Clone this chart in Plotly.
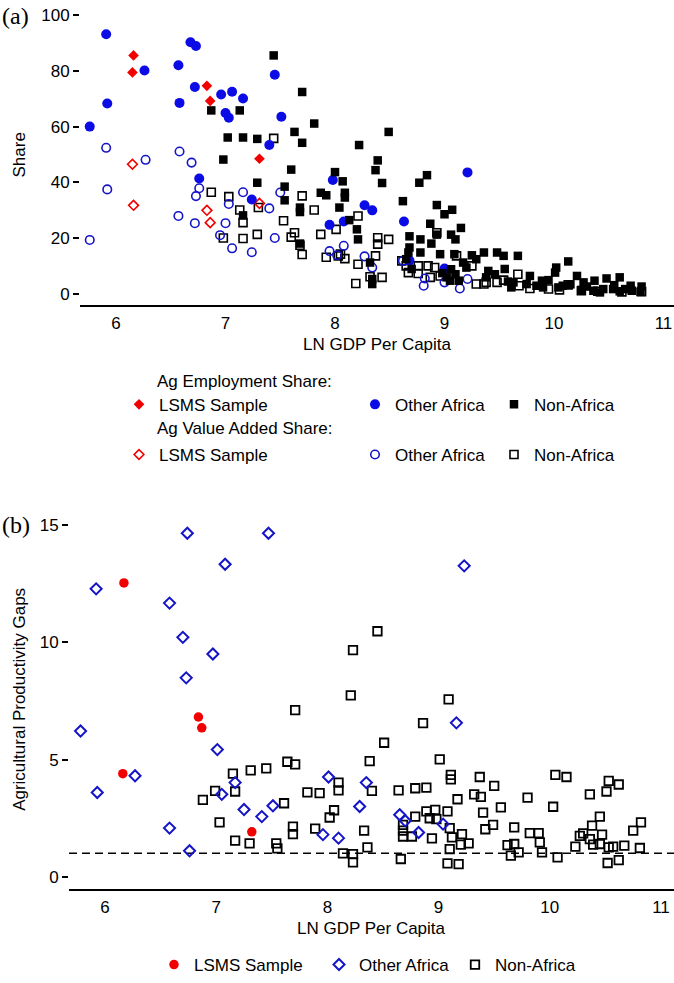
import plotly.graph_objects as go

W, H = 674, 983
SANS = "Liberation Sans, Arial, sans-serif"
SERIF = "Liberation Serif, Times New Roman, serif"
RED = "#f20000"
BLUE = "#0b0be6"
BLUE_OPEN = "#1515c8"
BLACK = "#000000"
FS = 17

# ---------------- Panel (a): sector shares ----------------
lsms_emp_x = [6.16, 6.15, 6.83, 6.86, 7.31]
lsms_emp_y = [85.5, 79.4, 74.6, 69.2, 48.5]
lsms_va_x = [6.15, 6.16, 6.83, 6.86, 7.31]
lsms_va_y = [46.5, 31.8, 30.0, 25.6, 32.5]

oaf_emp_x = [5.91, 5.76, 5.92, 6.26, 6.57, 6.58, 6.68, 6.73, 6.72, 6.76, 6.96, 7.06, 7.00, 7.03,
             7.16, 7.24, 7.40, 7.45, 7.51, 7.98, 7.95, 8.27, 8.34, 8.63, 9.21, 8.08, 9.00, 8.68]
oaf_emp_y = [93.1, 60.0, 68.3, 80.1, 82.0, 68.5, 90.2, 88.9, 74.2, 41.4, 71.5, 72.5, 64.9, 63.2,
             70.1, 33.9, 53.4, 78.6, 63.5, 40.9, 24.8, 31.8, 30.0, 26.0, 43.6, 26.0, 9.2, 12.0]
oaf_va_x = [5.76, 5.91, 5.92, 6.27, 6.58, 6.57, 6.69, 6.76, 6.73, 6.72, 6.95, 7.00, 7.03, 7.06, 7.16,
            7.24, 7.40, 7.45, 7.50, 7.95, 8.02, 8.08, 8.27, 8.34, 8.62, 8.81, 8.82, 9.14, 9.21, 9.00]
oaf_va_y = [19.4, 52.4, 37.5, 48.1, 51.1, 28.0, 47.1, 37.9, 35.1, 25.4, 21.1, 25.4, 32.3, 16.4, 36.5,
            15.0, 30.7, 20.1, 36.4, 15.4, 13.9, 17.3, 13.5, 9.5, 11.9, 3.0, 5.6, 2.0, 5.4, 4.2]

naf_emp_x = [6.87, 7.02, 7.13, 7.16, 7.29, 6.98, 7.44, 7.70, 7.63, 7.70, 7.81, 7.60, 7.29, 7.54, 7.54,
             7.16, 7.87, 7.92, 7.68, 7.68, 7.68, 8.00, 8.04, 8.49, 8.22, 8.39, 8.37, 8.43, 8.07, 8.09,
             8.09, 8.13, 8.20, 8.21, 8.84, 8.77, 8.62, 8.93, 9.07, 9.00, 8.87, 9.15, 8.93, 8.68, 8.78,
             9.06, 9.10, 8.88, 8.68, 8.67, 8.78, 8.96, 9.09, 9.25, 9.36, 9.48, 9.54, 9.67, 8.32, 8.34,
             8.34, 9.29, 9.17, 9.20, 9.06, 9.10, 9.05, 9.13, 9.40, 9.46, 9.38, 9.63, 9.61, 9.78, 9.75,
             9.89, 9.90, 10.02, 10.01, 10.13, 10.04, 10.21, 10.27, 10.37, 10.36, 10.48, 10.60, 10.54,
             10.45, 10.65, 10.71, 10.80, 10.79, 10.30, 10.42, 10.08, 9.84, 8.65, 8.70, 8.98, 9.02,
             9.55, 9.58, 9.95, 10.15, 10.55, 10.25, 10.60, 10.70]
naf_emp_y = [65.8, 56.1, 65.8, 56.1, 55.6, 48.2, 85.5, 72.4, 58.1, 54.2, 61.1, 44.6, 39.9, 38.5, 33.6,
             28.2, 36.3, 35.4, 31.0, 29.4, 18.1, 43.7, 31.0, 58.1, 53.4, 47.9, 44.4, 39.8, 40.4, 36.3,
             34.6, 26.5, 23.2, 19.6, 42.6, 39.9, 33.3, 31.9, 30.2, 28.6, 25.2, 23.7, 21.3, 20.7, 19.6,
             21.3, 19.6, 18.1, 16.7, 14.9, 14.9, 14.3, 14.3, 13.9, 14.9, 14.9, 13.7, 13.7, 11.3, 3.6,
             5.4, 12.5, 11.3, 9.5, 8.9, 7.1, 4.8, 4.8, 8.3, 7.1, 6.0, 4.2, 2.4, 6.5, 3.6,
             4.8, 2.4, 9.5, 7.7, 11.7, 2.4, 6.5, 4.2, 4.8, 1.2, 5.6, 6.0, 1.8,
             1.8, 1.8, 1.2, 2.7, 0.8, 2.7, 0.6, 3.0, 3.0, 12.5, 9.0, 7.5, 6.0,
             9.0, 4.5, 5.0, 3.5, 3.2, 1.5, 1.0, 3.0]
naf_va_x = [6.87, 7.03, 7.13, 7.16, 7.30, 6.98, 7.16, 7.29, 7.44, 7.53, 7.70, 7.81, 7.63, 7.60, 7.68,
            7.70, 7.87, 7.92, 8.01, 8.03, 8.21, 8.39, 8.39, 8.49, 8.05, 8.09, 8.21, 8.37, 8.32, 8.43,
            8.19, 8.93, 8.61, 8.65, 8.67, 8.76, 8.76, 8.85, 8.91, 8.87, 8.96, 9.11, 9.25, 9.29, 9.38,
            9.48, 9.54, 9.67, 9.68, 9.78, 10.13, 9.36, 10.05, 10.40, 10.62, 10.80, 9.95, 10.25]
naf_va_y = [36.5, 34.9, 30.1, 25.6, 31.0, 20.1, 19.9, 21.4, 55.8, 26.3, 35.2, 30.1, 22.0, 20.4, 17.5,
            14.2, 21.4, 13.2, 23.2, 13.7, 28.0, 20.2, 17.9, 19.6, 14.3, 12.7, 10.7, 13.7, 6.2, 6.0,
            3.8, 22.0, 11.9, 10.1, 7.7, 10.1, 7.4, 10.1, 9.5, 6.0, 6.5, 13.7, 10.1, 3.6, 4.2,
            4.2, 5.0, 7.1, 3.0, 2.0, 3.3, 3.6, 1.5, 1.0, 0.8, 0.9, 1.8, 1.2]

share_ticks = [0, 20, 40, 60, 80, 100]

# ---------------- Panel (b): agricultural productivity gaps ----------------
lsms_gap_x = [6.17, 6.16, 6.84, 6.87, 7.32]
lsms_gap_y = [12.54, 4.40, 6.82, 6.36, 1.92]

oaf_gap_x = [6.74, 7.47, 7.08, 5.92, 6.58, 6.70, 6.97, 6.73, 5.78, 7.01, 6.27, 7.17, 8.01, 9.23, 9.16,
             5.93, 7.05, 6.58, 6.76, 7.25, 7.41, 7.51, 7.96, 8.10, 8.35, 8.29, 8.65, 8.70, 8.82, 9.04]
oaf_gap_y = [14.66, 14.66, 13.34, 12.29, 11.68, 10.22, 9.51, 8.49, 6.22, 5.43, 4.31, 4.02, 4.26, 13.27, 6.57,
             3.60, 3.52, 2.08, 1.11, 2.87, 2.57, 3.03, 1.80, 1.65, 4.02, 3.00, 2.65, 2.39, 1.89, 2.25]

naf_gap_x = [7.71, 7.15, 7.31, 7.45, 7.64, 7.71, 8.45, 8.23, 8.21, 9.09, 8.86, 8.51, 8.38, 9.01, 10.05,
             10.15, 10.53, 10.62, 9.37, 9.11, 9.11, 8.10, 9.50, 6.99, 6.88, 7.17, 7.61, 7.03, 7.17, 7.30,
             7.54, 7.55, 7.69, 7.69, 7.82, 7.93, 7.89, 8.10, 8.06, 8.02, 8.40, 8.33, 8.36, 8.14, 8.23,
             8.23, 8.64, 8.79, 8.89, 9.17, 9.32, 9.38, 9.56, 9.80, 10.03, 10.36, 10.51, 9.40, 8.79, 8.89,
             8.97, 9.08, 8.92, 8.98, 9.10, 8.68, 8.68, 8.68, 8.76, 8.94, 9.12, 9.21, 9.20, 9.27, 9.10,
             9.49, 9.42, 9.68, 9.82, 9.90, 9.91, 9.93, 9.62, 9.68, 9.72, 9.65, 10.07, 10.23, 10.27, 10.30,
             10.38, 10.45, 10.47, 10.36, 10.39, 10.45, 10.53, 10.57, 10.67, 10.81, 10.75, 10.82, 10.52,
             10.62, 8.66, 9.08, 9.18]
naf_gap_y = [7.11, 4.40, 4.54, 4.63, 4.91, 4.80, 10.48, 9.67, 7.74, 7.57, 6.56, 5.72, 4.94, 5.01, 4.35,
             4.26, 4.09, 3.94, 4.26, 4.35, 4.16, 4.02, 3.88, 3.67, 3.28, 3.64, 3.14, 2.32, 1.54, 1.43,
             1.43, 1.21, 2.14, 1.82, 3.60, 3.57, 2.06, 3.69, 2.84, 2.53, 3.67, 1.97, 1.26, 1.00, 0.97,
             0.62, 3.69, 3.78, 3.81, 3.31, 3.52, 3.41, 2.96, 3.38, 2.99, 3.52, 3.64, 2.74, 2.57, 2.79,
             2.86, 2.79, 2.50, 2.46, 2.08, 2.22, 1.97, 1.72, 1.72, 1.64, 1.68, 1.82, 1.37, 1.43, 1.18,
             2.22, 2.03, 2.11, 1.86, 1.86, 1.47, 1.04, 1.35, 1.40, 1.04, 0.90, 0.83, 1.29, 1.75, 1.85,
             2.18, 2.57, 1.80, 1.61, 1.37, 1.40, 1.26, 1.29, 1.33, 1.23, 1.97, 2.32, 0.59,
             0.71, 0.76, 0.57, 0.54]

gap_ticks = [0, 5, 10, 15]
gap_reference = 1.0
gdp_ticks = [6, 7, 8, 9, 10, 11]

fig = go.Figure()


def add(x, y, xa, ya, name, symbol, size, color, lw, legend, rank):
    fig.add_trace(go.Scatter(
        x=x, y=y, xaxis=xa, yaxis=ya, mode="markers", name=name,
        marker=dict(symbol=symbol, size=size, color=color, line=dict(width=lw, color=color)),
        legend=legend, legendgroup=legend + name + str(rank), legendrank=rank,
        showlegend=True, hoverinfo="x+y+name"))


# panel (a) - value-added (open) drawn first, employment (filled) on top
add(naf_va_x, naf_va_y, "x", "y", "Non-Africa", "square-open", 8, BLACK, 1.6, "legend3", 200)
add(oaf_va_x, oaf_va_y, "x", "y", "Other Africa", "circle-open", 8.5, BLUE_OPEN, 1.6, "legend2", 200)
add(lsms_va_x, lsms_va_y, "x", "y", "LSMS Sample", "diamond-open", 7.5, RED, 1.6, "legend", 200)
add(oaf_emp_x, oaf_emp_y, "x", "y", "Other Africa", "circle", 10, BLUE, 0, "legend2", 100)
add(naf_emp_x, naf_emp_y, "x", "y", "Non-Africa", "square", 8.5, BLACK, 0, "legend3", 100)
add(lsms_emp_x, lsms_emp_y, "x", "y", "LSMS Sample", "diamond", 8.2, RED, 0, "legend", 100)

# panel (b)
add(naf_gap_x, naf_gap_y, "x2", "y2", "Non-Africa", "square-open", 8.5, BLACK, 1.8, "legend6", 100)
add(oaf_gap_x, oaf_gap_y, "x2", "y2", "Other Africa", "diamond-open", 8.5, BLUE_OPEN, 2, "legend5", 100)
add(lsms_gap_x, lsms_gap_y, "x2", "y2", "LSMS Sample", "circle", 9.5, RED, 0, "legend4", 100)

fig.add_shape(type="line", xref="x2 domain", yref="y2", x0=0, x1=1, y0=gap_reference, y1=gap_reference,
              line=dict(color=BLACK, width=1.5, dash="8px,5px"), layer="below")


def px_x(p):
    return p / W


def px_y(p):
    return 1 - p / H


tickfont = dict(family=SANS, size=FS, color=BLACK)
xcommon = dict(showgrid=False, zeroline=False, showline=True, linecolor=BLACK, linewidth=1.5,
               tickmode="array", tickvals=gdp_ticks, ticks="outside", ticklen=2,
               tickcolor="rgba(0,0,0,0)", tickfont=tickfont)
ycommon = dict(showgrid=False, zeroline=False, showline=False, tickmode="array",
               ticks="outside", ticklen=6, tickwidth=1.5, tickcolor=BLACK, tickfont=tickfont)

fig.update_layout(
    width=W, height=H, autosize=False,
    margin=dict(l=0, r=0, t=0, b=0, pad=0),
    paper_bgcolor="white", plot_bgcolor="white",
    font=dict(family=SANS, size=FS, color=BLACK),
    xaxis=dict(domain=[px_x(80), 1], range=[5.671, 11.096], anchor="y", **xcommon),
    yaxis=dict(domain=[px_y(306), px_y(5)], range=[-3.93, 103.57], anchor="x",
               tickvals=share_ticks, **ycommon),
    xaxis2=dict(domain=[px_x(69), 1], range=[5.676, 11.117], anchor="y2", **xcommon),
    yaxis2=dict(domain=[px_y(892), px_y(510)], range=[-0.532, 15.72], anchor="x2",
                tickvals=gap_ticks, **ycommon),
)

leg = dict(bgcolor="rgba(0,0,0,0)", borderwidth=0, font=dict(family=SANS, size=FS, color=BLACK),
           xanchor="left", yanchor="top", orientation="v", traceorder="grouped", tracegroupgap=25,
           itemclick=False, itemdoubleclick=False)
fig.update_layout(
    legend=dict(x=px_x(119), y=px_y(388), **leg),
    legend2=dict(x=px_x(355), y=px_y(388), **leg),
    legend3=dict(x=px_x(494), y=px_y(388), **leg),
    legend4=dict(x=px_x(154), y=px_y(950), **leg),
    legend5=dict(x=px_x(319), y=px_y(950), **leg),
    legend6=dict(x=px_x(455), y=px_y(950), **leg),
)

ann = []


def text(t, x, y, size=FS, family=SANS, xanchor="center", angle=0):
    ann.append(dict(text=t, x=px_x(x), y=px_y(y), xref="paper", yref="paper", showarrow=False,
                    xanchor=xanchor, yanchor="middle", textangle=angle,
                    font=dict(family=family, size=size, color=BLACK)))


text("(a)", 0, 16, size=24, family=SERIF, xanchor="left")
text("(b)", 0, 527, size=24, family=SERIF, xanchor="left")
text("Share", 20, 156, angle=-90)
text("Agricultural Productivity Gaps", 20, 702, angle=-90)
text("LN GDP Per Capita", 377, 346)
text("LN GDP Per Capita", 371, 931)
text("Ag Employment Share:", 155, 383, xanchor="left")
text("Ag Value Added Share:", 155, 430, xanchor="left")
fig.update_layout(annotations=ann)

fig.write_html("out.html", config={"displayModeBar": False},
               post_script="document.body.style.margin='0px';")
